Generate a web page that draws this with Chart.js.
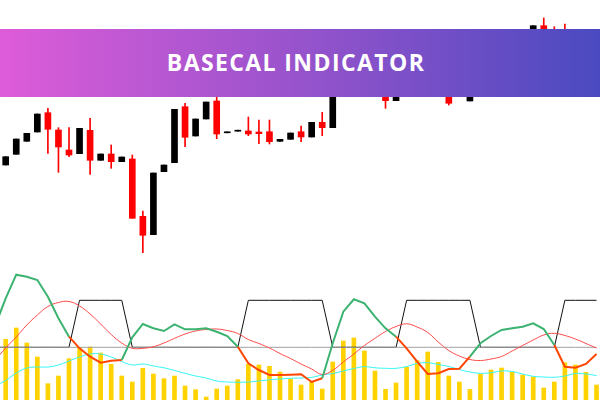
<!DOCTYPE html>
<html>
<head>
<meta charset="utf-8">
<script src="https://cdn.jsdelivr.net/npm/chart.js@4/dist/chart.umd.min.js"></script>
<style>
  html, body { margin: 0; padding: 0; background: #fff; }
  #wrap { position: relative; width: 600px; height: 400px; overflow: hidden; }
  #price { position: absolute; left: 0; top: 0; }
  #osc { position: absolute; left: 0; top: 260px; }
  #banner {
    position: absolute; left: 0; top: 29px; width: 600px; height: 68px;
    background: linear-gradient(90deg, #de5cd9 0%, #9753cc 50%, #4a4ac0 100%);
  }
  #banner span {
    position: absolute; left: 296px; top: 33px; transform: translate(-50%, -50%);
    color: #fff; font: 700 23px "Open Sans", sans-serif; white-space: nowrap; letter-spacing: 1.4px;
  }
</style>
</head>
<body>
<div id="wrap">
  <canvas id="price" width="600" height="260"></canvas>
  <canvas id="osc" width="600" height="140"></canvas>
  <div id="banner"><span>BASECAL INDICATOR</span></div>
</div>
<script>
// Velas: precios (unidades arbitrarias, 57 velas)
const OPEN  = [95, 105.7, 118.7, 128, 147.3, 130, 110, 106.3, 129.7, 99.7, 106, 98.3, 101, 43.7, 25.3, 88.3, 97.3, 153.3, 124, 141, 159, 127.2, 128.8, 129, 128, 128.3, 118.7, 120.7, 128.3, 123, 137.7, 132.3, 178, 200, 186, 200, 205, 159.3, 188, 205, 182, 205, 215, 165, 159, 198, 215, 192, 218, 227, 210, 234.3, 225, 220, 190, 210, 188];
const HIGH  = [103.3, 121, 126.7, 146, 151.7, 132.3, 132.3, 131.7, 141.7, 106, 115, 103, 105, 49, 87, 95, 150.7, 156.7, 141, 158, 166, 128.2, 129.8, 143, 140, 140, 120.7, 127, 134, 137.7, 147.7, 185, 202, 205, 214, 220, 212, 194, 210, 208, 215, 224, 220, 190, 204, 220, 218, 224, 229, 230, 234.3, 242, 233.3, 236, 215, 214, 220];
const LOW   = [95, 105.7, 118.7, 128, 106.7, 87.7, 103.3, 106.3, 85.7, 99.7, 91.7, 98.3, 41.7, 7.3, 25.3, 88.3, 97.3, 113.3, 124, 141, 121.3, 127.2, 128.8, 124.3, 116.3, 116, 118.7, 120.7, 118.3, 123, 124.3, 132.3, 176, 182, 184, 198, 151.7, 159.3, 186, 176, 180, 202, 155, 164, 159, 196, 186, 190, 216, 202, 208, 210, 198, 190, 188, 182, 186];
const CLOSE = [103.3, 121, 126.7, 146, 130.7, 113, 105, 131.7, 99.7, 106, 98.3, 103, 41.7, 24.7, 87, 95, 150.7, 122.7, 141, 158, 126, 128.2, 129.8, 126, 126.3, 118.3, 120.7, 127, 123, 137.7, 132.3, 180, 198, 185, 210, 215, 159.3, 190, 205, 180, 210, 220, 156.7, 185, 200, 215, 190, 220, 227, 205, 234.3, 215, 200, 195, 210, 185, 215];

// Panel inferior: histograma y líneas (índice -1 incluido en las líneas)
const HIST = [60.7, 72, 57, 43, 16.3, 24, 41.3, 52.7, 53, 47, 35.7, 24, 18, 31.7, 26, 21.3, 24, 14, 10.3, 3, 11, 14, 20.3, 35.7, 35, 33.7, 28, 21, 15, 18, 11, 38, 59, 62, 49, 29, 10.7, 17, 32.7, 39.3, 48, 37.7, 24, 18, 10.7, 25.7, 30, 32, 28, 25, 23, 12, 18, 37.3, 35, 27.7, 15];
const MAIN = [74.3, 101.7, 125.3, 123.3, 120, 103.3, 81.7, 63.3, 51.7, 43.3, 37.3, 39.3, 40, 62.7, 76, 71.7, 69, 75.7, 70.7, 70.7, 71.7, 68.3, 64, 53.3, 36.7, 30, 25, 25, 25.3, 25.7, 18, 21.7, 56.7, 88.3, 100.7, 96.7, 83.3, 71.7, 63.3, 51.7, 38.3, 26, 26.7, 31, 31.3, 43.3, 56.7, 64, 70, 71.7, 73.3, 76.7, 71, 55, 33.3, 32.3, 36, 46];
const SLOW = [40, 52, 63, 75, 85, 93.5, 97.5, 98.5, 94, 86, 76, 65.5, 57, 51.7, 51.7, 53.3, 57, 61.7, 66, 69, 70.5, 71, 69.5, 66.5, 60.5, 56.5, 52, 46.5, 41.5, 36, 31, 25.5, 29.7, 38, 46, 54.5, 61.7, 68.5, 73.5, 76.2, 73, 67.5, 58, 49.5, 44, 40.5, 39.5, 41, 43.5, 49, 54.5, 60, 65, 66.7, 64.5, 61, 56.5, 52];
const TREND = [14, 19.5, 27, 32, 33, 33, 35, 39, 43, 46, 46, 43, 38.5, 35, 36, 34, 32.2, 29.5, 26.7, 24, 22, 19, 18, 17.7, 18, 19, 20.2, 21, 21.7, 22, 22.7, 25, 26.5, 29, 31.5, 33.3, 32.2, 31.7, 31.7, 33.5, 36.5, 37.3, 35.5, 33.5, 30.5, 28, 26.7, 27.3, 29, 28.5, 26, 23.7, 23, 22.7, 24, 26.5, 26, 24.5];
const SIGNAL_HI = 99.7, SIGNAL_LO = 52.7;
const SIGNAL_ON = [0, 0, 0, 0, 0, 0, 0, 0, 1, 1, 1, 1, 1, 0, 0, 0, 0, 0, 0, 0, 0, 0, 0, 0, 1, 1, 1, 1, 1, 1, 1, 1, 0, 0, 0, 0, 0, 0, 0, 1, 1, 1, 1, 1, 1, 1, 0, 0, 0, 0, 0, 0, 0, 0, 1, 1, 1, 1];

const RED = "#ff0000", BLACK = "#000000";
const X_MIN = -0.54, X_MAX = 56.33;

const idx = OPEN.map((_, i) => i);
const candleColor = idx.map((i) => (CLOSE[i] >= OPEN[i] ? BLACK : RED));

const xScale = { type: "linear", min: X_MIN, max: X_MAX, display: false, offset: false };

new Chart(document.getElementById("price"), {
  type: "bar",
  data: {
    datasets: [
      {
        data: idx.map((i) => ({ x: i, y: [LOW[i], HIGH[i]] })),
        backgroundColor: candleColor,
        barThickness: 1,
        grouped: false,
        order: 2,
      },
      {
        data: idx.map((i) => ({ x: i, y: [OPEN[i], CLOSE[i]] })),
        backgroundColor: candleColor,
        barThickness: 6,
        grouped: false,
        order: 1,
      },
    ],
  },
  options: {
    responsive: false,
    animation: false,
    devicePixelRatio: 1,
    layout: { padding: 0 },
    plugins: { legend: { display: false }, tooltip: { enabled: false } },
    scales: { x: xScale, y: { min: 0, max: 260, display: false } },
  },
});

const lineX = (arr) => arr.map((v, i) => ({ x: i - 1, y: v }));
const lineBase = { type: "line", pointRadius: 0, borderWidth: 1, fill: false };

new Chart(document.getElementById("osc"), {
  type: "bar",
  data: {
    datasets: [
      {
        data: HIST.map((v, i) => ({ x: i, y: v })),
        backgroundColor: "#ffd200",
        barThickness: 4,
        order: 10,
      },
      { ...lineBase, data: lineX(SIGNAL_ON.map((s) => (s ? SIGNAL_HI : SIGNAL_LO))), borderColor: "#111", order: 6 },
      { ...lineBase, data: lineX(SIGNAL_ON.map(() => SIGNAL_LO)), borderColor: "#a0a0a0", order: 5 },
      { ...lineBase, data: lineX(TREND), borderColor: "#33f5f5", tension: 0.4, order: 4 },
      { ...lineBase, data: lineX(SLOW), borderColor: "#ff4a4a", tension: 0.4, order: 3 },
      {
        ...lineBase,
        data: lineX(MAIN),
        borderWidth: 2,
        borderColor: "#3cb371",
        segment: { borderColor: (ctx) => (SIGNAL_ON[ctx.p1DataIndex] ? "#ff4500" : "#3cb371") },
        order: 1,
      },
    ],
  },
  options: {
    responsive: false,
    animation: false,
    devicePixelRatio: 1,
    layout: { padding: 0 },
    plugins: { legend: { display: false }, tooltip: { enabled: false } },
    scales: { x: xScale, y: { min: 0, max: 140, display: false } },
  },
});
</script>
</body>
</html>
